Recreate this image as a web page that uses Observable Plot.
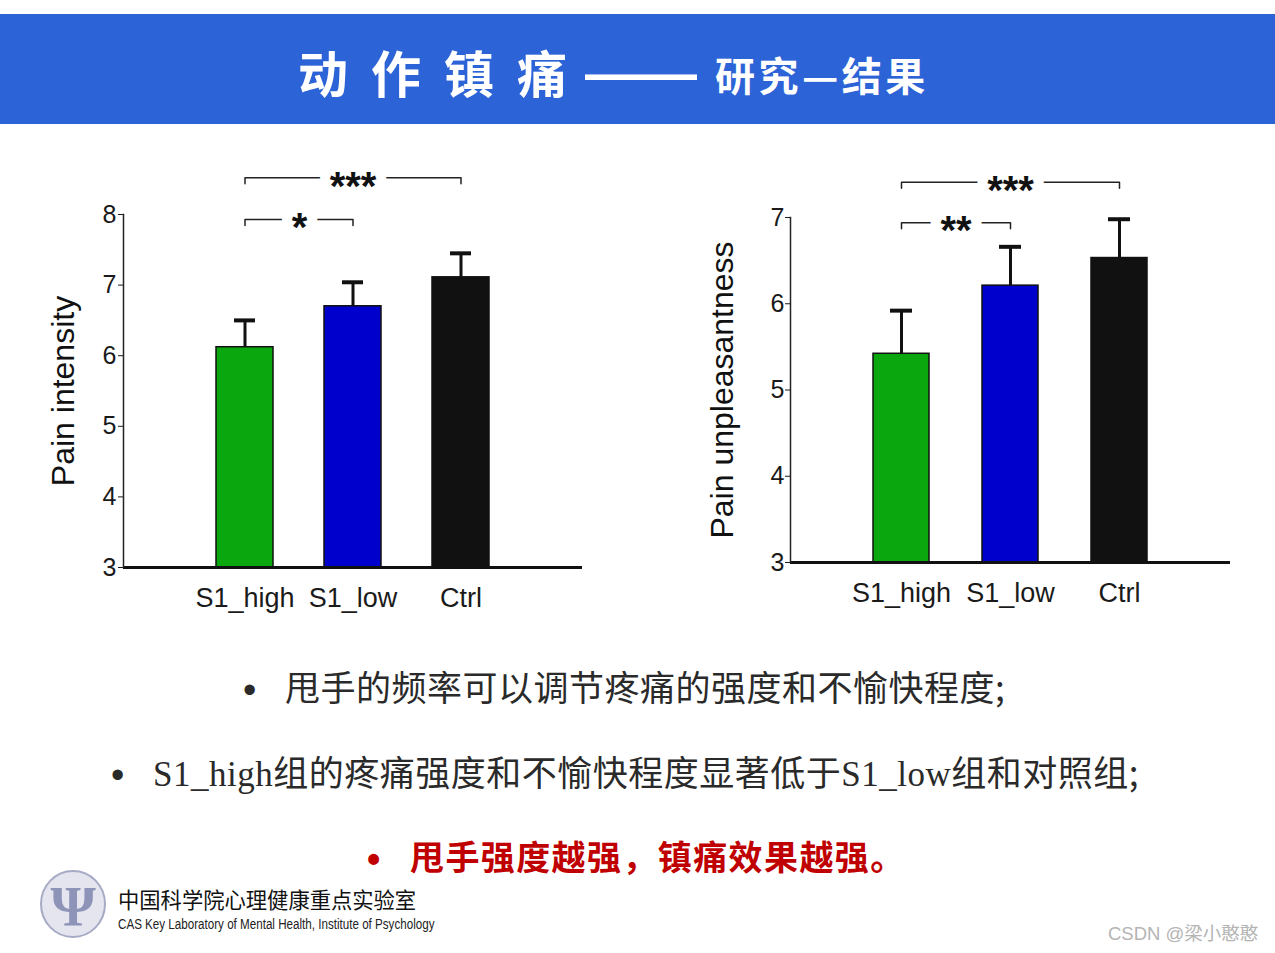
<!DOCTYPE html>
<html><head><meta charset="utf-8">
<script src="https://cdn.jsdelivr.net/npm/d3@7"></script>
<script src="https://cdn.jsdelivr.net/npm/@observablehq/plot@0.6"></script>
<style>
html,body{margin:0;padding:0;background:#fff;}
#page{position:relative;width:1275px;height:953px;overflow:hidden;font-family:"Liberation Sans",Arial,sans-serif;}
.abs{position:absolute;white-space:nowrap;line-height:1;}
#banner{left:0;top:14px;width:1275px;height:110px;background:#2c63d6;}
.title{color:#fff;font-family:"Noto Sans CJK SC",sans-serif;font-weight:700;}
.bul{font-family:"Liberation Serif","Noto Sans CJK SC",serif;color:#2a2a2a;font-size:35px;letter-spacing:0.5px;}
.bul .cjk{font-family:"Noto Sans CJK SC",sans-serif;}
.dot{display:inline-block;font-family:"Liberation Sans",sans-serif;font-size:38px;vertical-align:middle;position:relative;top:-3px;}
</style></head>
<body><div id="page">
<div id="banner" class="abs"></div>
<div class="abs title" style="left:298px;top:46px;font-size:50px;letter-spacing:23px;">动作镇痛</div>
<div class="abs title" style="left:585px;top:45px;font-size:56px;font-family:'Liberation Sans',sans-serif;font-weight:700;">——</div>
<div class="abs title" style="left:715px;top:54px;font-size:40px;letter-spacing:3.5px;">研究—结果</div>

<div id="c1" class="abs" style="left:0;top:140px;"></div>
<div id="c2" class="abs" style="left:660px;top:140px;"></div>

<div class="abs bul" style="left:243px;top:668px;"><span class="dot" style="width:42px;">•</span><span class="cjk">甩手的频率可以调节疼痛的强度和不愉快程度;</span></div>
<div class="abs bul" style="left:111px;top:753px;"><span class="dot" style="width:42px;">•</span>S1_high<span class="cjk">组的疼痛强度和不愉快程度显著低于</span>S1_low<span class="cjk">组和对照组;</span></div>
<div class="abs bul" style="left:367px;top:839px;color:#c00000;font-weight:700;font-size:34px;letter-spacing:1.4px;"><span class="dot" style="width:43px;">•</span><span class="cjk">甩手强度越强，镇痛效果越强。</span></div>

<svg class="abs" style="left:38px;top:868px;" width="72" height="74" viewBox="0 0 72 74">
  <ellipse cx="35" cy="36" rx="32" ry="33" fill="#e4e5ef" stroke="#a7aac4" stroke-width="2"/>
  <text x="35" y="58" text-anchor="middle" font-size="58" font-family="Liberation Serif" font-weight="700" fill="#8e93b8">Ψ</text>
</svg>
<div class="abs" style="left:118px;top:888px;font-size:21.3px;color:#111;font-family:'Noto Sans CJK SC',sans-serif;">中国科学院心理健康重点实验室</div>
<div class="abs" style="left:118px;top:917px;font-size:14px;color:#222;transform:scaleX(0.83);transform-origin:0 50%;">CAS Key Laboratory of Mental Health, Institute of Psychology</div>
<div class="abs" style="left:1108px;top:925px;font-size:18.5px;color:#b4b4b4;font-family:'Liberation Sans','Noto Sans CJK SC',sans-serif;">CSDN @梁小憨憨</div>
</div>
<script>
const categories = ["S1_high", "S1_low", "Ctrl"];
const barColors = ["#0aa80e", "#0000cc", "#111111"];

const intensityMean = [6.12, 6.70, 7.11];
const intensitySE = [0.38, 0.34, 0.34];
const intensityTicks = [3, 4, 5, 6, 7, 8];
const intensityBrackets = [
  {from: "S1_high", to: "Ctrl", y: 8.52, label: "***"},
  {from: "S1_high", to: "S1_low", y: 7.93, label: "*"}
];

const unpleasantMean = [5.42, 6.21, 6.53];
const unpleasantSE = [0.50, 0.45, 0.45];
const unpleasantTicks = [3, 4, 5, 6, 7];
const unpleasantBrackets = [
  {from: "S1_high", to: "Ctrl", y: 7.41, label: "***"},
  {from: "S1_high", to: "S1_low", y: 6.94, label: "**"}
];

function chart(o) {
  const base = o.ticks[0];
  const data = categories.map((c, i) => ({group: c, base, mean: o.mean[i], top: o.mean[i] + o.se[i]}));
  const n = categories.length;
  const step = (o.width - o.ml - o.mr) / (n - o.pin + 2 * o.pout);
  const path = o.brackets.flatMap((b, k) => [
    {id: k, x: b.from, y: b.y - o.drop},
    {id: k, x: b.from, y: b.y},
    {id: k, x: b.to, y: b.y},
    {id: k, x: b.to, y: b.y - o.drop}
  ]);
  const labels = o.brackets.map(b => {
    const m = (categories.indexOf(b.from) + categories.indexOf(b.to)) / 2;
    return Plot.text([{x: categories[Math.floor(m)], y: b.y, label: b.label}], {
      x: "x", y: "y", text: "label", dx: (m % 1) * step, dy: 9,
      fontSize: 40, fontWeight: "bold", fill: "#111",
      stroke: "white", strokeWidth: 20, paintOrder: "stroke", strokeLinejoin: "round"
    });
  });
  return Plot.plot({
    width: o.width, height: o.height,
    marginLeft: o.ml, marginRight: o.mr, marginTop: o.mt, marginBottom: o.mb,
    style: {fontFamily: "Liberation Sans, Arial, sans-serif", color: "#1a1a1a", background: "transparent", overflow: "visible"},
    x: {domain: categories, paddingInner: o.pin, paddingOuter: o.pout, label: null},
    y: {domain: [o.ticks[0], o.ticks[o.ticks.length - 1]], label: null},
    color: {domain: categories, range: barColors},
    marks: [
      Plot.barY(data, {x: "group", y1: "base", y2: "mean", fill: "group", stroke: "#111", strokeWidth: 1.5}),
      Plot.ruleX(data, {x: "group", y1: "mean", y2: "top", stroke: "#111", strokeWidth: 3}),
      Plot.tickY(data, {x: "group", y: "top", stroke: "#111", strokeWidth: 4, insetLeft: o.cap, insetRight: o.cap}),
      Plot.ruleY([base], {stroke: "#111", strokeWidth: 3}),
      Plot.frame({anchor: "left", stroke: "#222", strokeWidth: 1.5}),
      Plot.axisY(o.ticks, {tickSize: 5, tickPadding: o.tp, fontSize: 25, label: null, tickFormat: d => String(d)}),
      Plot.axisX({tickSize: 0, tickPadding: 20, fontSize: 27, label: null}),
      Plot.text([o.label], {frameAnchor: "left", textAnchor: "middle", rotate: -90, dx: o.ldx, fontSize: 32, fill: "#111"}),
      Plot.line(path, {x: "x", y: "y", z: "id", stroke: "#222", strokeWidth: 1.5}),
      ...labels
    ]
  });
}

document.getElementById("c1").append(chart({
  mean: intensityMean, se: intensitySE, ticks: intensityTicks, brackets: intensityBrackets,
  label: "Pain intensity", width: 620, height: 490, ml: 123, mr: 38, mt: 74, mb: 63,
  pin: 0.468, pout: 0.84, cap: 18, drop: 0.085, ldx: -60, tp: 2
}));
document.getElementById("c2").append(chart({
  mean: unpleasantMean, se: unpleasantSE, ticks: unpleasantTicks, brackets: unpleasantBrackets,
  label: "Pain unpleasantness", width: 600, height: 490, ml: 130, mr: 30, mt: 77, mb: 68,
  pin: 0.486, pout: 0.76, cap: 17, drop: 0.07, ldx: -68, tp: 1
}));
</script>
</body></html>
